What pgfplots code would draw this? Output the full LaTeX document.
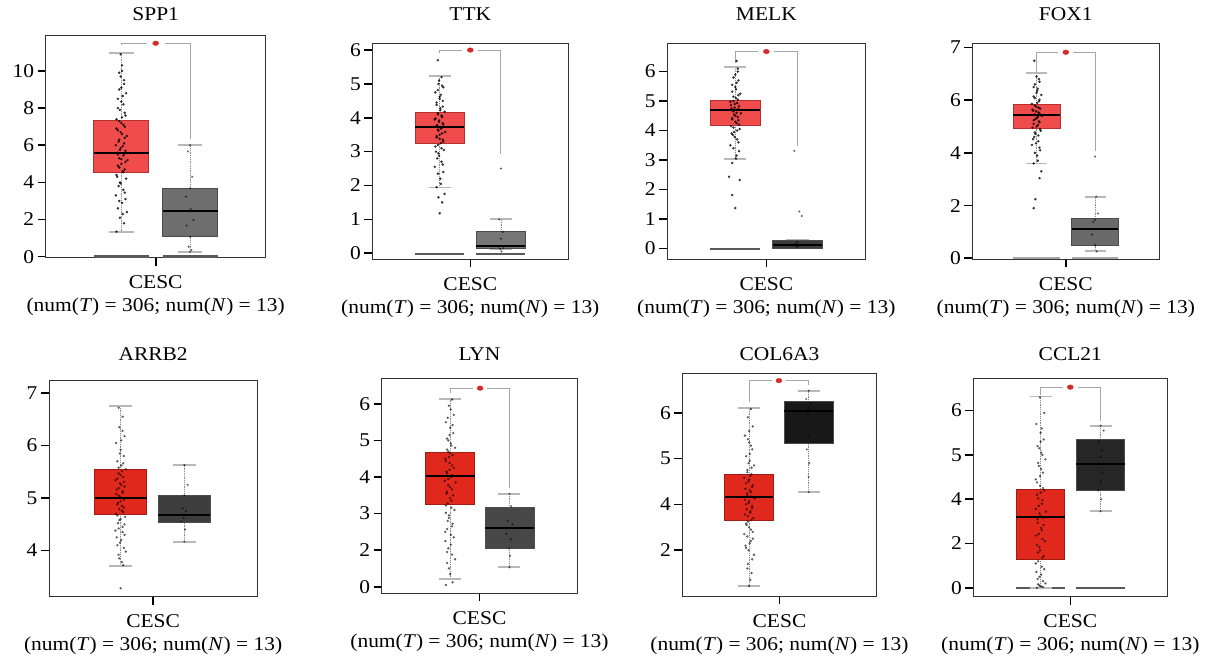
\documentclass[border=0pt]{standalone}
\usepackage{fontspec}
\setmainfont{Liberation Serif}[FakeStretch=1.1]
\usepackage{pgfplots}
\pgfplotsset{compat=1.18}
\usepgfplotslibrary{statistics}

% tumour reds (top row lighter, bottom row deeper)
\definecolor{tumA}{HTML}{F04C4C}
\definecolor{tumAd}{HTML}{B53030}
\definecolor{tumB}{HTML}{E0291C}
\definecolor{tumBd}{HTML}{A01C12}
% normal greys, one per panel
\definecolor{nSPP}{HTML}{6E6E6E}
\definecolor{nTTK}{HTML}{767676}
\definecolor{nMELK}{HTML}{3C3C3C}
\definecolor{nFOX}{HTML}{6A6A6A}
\definecolor{nARRB}{HTML}{3E3E3E}
\definecolor{nLYN}{HTML}{474747}
\definecolor{nCOL}{HTML}{181818}
\definecolor{nCCL}{HTML}{262626}
\definecolor{capgray}{HTML}{B8B8B8}
\definecolor{brk}{HTML}{A6A6A6}
\definecolor{sig}{HTML}{D42A2A}

\newcommand{\lbl}{\fontsize{19.5}{22}\selectfont}
\newcommand{\cesc}{%
  \node[anchor=base, font=\lbl] at (rel axis cs:0.5,0) [yshift=-31pt] {CESC};
  \node[anchor=base, font=\lbl] at (rel axis cs:0.5,0) [yshift=-54pt] {(num(\textit{T}) = 306; num(\textit{N}) = 13)};
}

\pgfplotsset{
  gepia/.style={
    scale only axis,
    anchor=south west,
    clip=false,
    xmin=-1.6, xmax=1.6,
    xtick={0}, xticklabels={},
    tick pos=left,
    tick align=outside,
    major tick length=8pt,
    axis line style={draw=black!80, line width=1pt},
    tick style={black, line width=1.6pt},
    tick label style={font=\lbl},
    /pgf/number format/assume math mode=true,
    title style={font=\lbl, at={(0.5,1)}, anchor=base},
    boxplot/draw direction=y,
    boxplot/every median/.style={draw=black, line width=2pt},
    boxplot/draw/lower whisker/.code={%
      \draw[black!45, densely dotted, line width=0.8pt]
        (boxplot cs:\pgfplotsboxplotvalue{lower quartile}) -- (boxplot cs:\pgfplotsboxplotvalue{lower whisker});
      \draw[capgray, line width=1.8pt]
        (boxplot whisker cs:\pgfplotsboxplotvalue{lower whisker},0) -- (boxplot whisker cs:\pgfplotsboxplotvalue{lower whisker},1);
    },
    boxplot/draw/upper whisker/.code={%
      \draw[black!45, densely dotted, line width=0.8pt]
        (boxplot cs:\pgfplotsboxplotvalue{upper quartile}) -- (boxplot cs:\pgfplotsboxplotvalue{upper whisker});
      \draw[capgray, line width=1.8pt]
        (boxplot whisker cs:\pgfplotsboxplotvalue{upper whisker},0) -- (boxplot whisker cs:\pgfplotsboxplotvalue{upper whisker},1);
    },
  },
  pts/.style={only marks, mark=*, mark size=1.05pt, black, opacity=0.7},
  lpts/.style={only marks, mark=*, mark size=1pt, black, opacity=0.5},
  npts/.style={only marks, mark=*, mark size=0.9pt, black, opacity=0.45},
  zline/.style={black!65, line width=2.4pt},
  bracket/.style={brk, line width=1pt},
  star/.style={only marks, mark=*, mark size=2.3pt, sig, mark options={xscale=1.3}},
}

\begin{document}
\begin{tikzpicture}
\useasboundingbox (0,0) rectangle (1212pt,659pt);

% ---------------- SPP1
\begin{axis}[gepia, at={(45.7pt,401pt)}, width=220pt, height=222pt,
  ymin=-0.07, ymax=11.88, ytick={0,2,...,10},
  title={SPP1}, title style={yshift=9pt}]
\addplot[zline] coordinates {(-0.9,0) (-0.1,0)};
\addplot[zline] coordinates {(0.1,0) (0.9,0)};
\addplot[boxplot prepared={draw position=-0.5, box extend=0.8, whisker extend=0.36,
  lower whisker=1.31, lower quartile=4.52, median=5.58, upper quartile=7.33, upper whisker=10.95},
  fill=tumA, draw=tumAd, line width=0.8pt] coordinates {};
\addplot[boxplot prepared={draw position=0.5, box extend=0.8, whisker extend=0.36,
  lower whisker=0.27, lower quartile=1.08, median=2.48, upper quartile=3.68, upper whisker=6.01},
  fill=nSPP, draw=black!70, line width=0.8pt] coordinates {};
\addplot[pts] coordinates {
(-0.57,1.35)(-0.46,1.8)(-0.52,2.1)(-0.42,2.4)(-0.55,2.6)(-0.49,2.9)(-0.44,3.1)(-0.58,3.3)(-0.47,3.6)(-0.54,3.8)
(-0.52,4.0)(-0.43,4.2)(-0.57,4.4)(-0.48,4.6)(-0.45,4.7)(-0.55,4.9)(-0.5,5.0)(-0.41,5.2)(-0.53,5.3)(-0.47,5.45)
(-0.56,5.6)(-0.44,5.7)(-0.51,5.85)(-0.58,6.0)(-0.46,6.1)(-0.53,6.3)(-0.42,6.5)(-0.49,6.6)(-0.55,6.8)(-0.45,7.0)
(-0.5,7.2)(-0.57,7.4)(-0.44,7.6)(-0.52,7.9)(-0.47,8.2)(-0.55,8.5)(-0.43,8.8)(-0.5,9.1)(-0.46,9.5)(-0.53,9.9)
(-0.49,10.3)(-0.51,10.9)
(-0.48,2.3)(-0.53,3.0)(-0.45,3.45)(-0.51,3.95)(-0.56,4.3)(-0.47,4.55)(-0.53,4.8)(-0.44,5.1)(-0.5,5.25)(-0.55,5.5)
(-0.46,5.55)(-0.52,5.75)(-0.48,5.95)(-0.54,6.2)(-0.45,6.4)(-0.51,6.7)(-0.57,6.9)(-0.47,7.1)(-0.53,7.3)(-0.49,7.5)
(-0.45,7.75)(-0.55,8.0)(-0.5,8.35)(-0.48,8.65)(-0.53,9.0)(-0.46,9.3)(-0.51,9.7)(-0.49,10.0)
};
\addplot[npts] coordinates {
(0.5,6.0)(0.47,5.66)(0.53,4.3)(0.5,3.68)(0.44,3.23)(0.51,2.55)(0.55,1.97)(0.45,1.67)(0.5,1.08)(0.48,0.54)(0.52,0.36)(0.5,0.27)
};
\addplot[bracket] coordinates {(-0.5,11.40) (-0.5,11.49) (-0.13,11.49)};
\addplot[bracket] coordinates {(0.13,11.49) (0.5,11.49) (0.5,6.32)};
\addplot[star] coordinates {(0,11.49)};
\cesc
\end{axis}

% ---------------- TTK
\begin{axis}[gepia, at={(372.3pt,399.7pt)}, width=196pt, height=216pt,
  ymin=-0.18, ymax=6.2, ytick={0,1,...,6},
  title={TTK}, title style={yshift=16.3pt}]
\addplot[zline] coordinates {(-0.9,-0.02) (-0.1,-0.02)};
\addplot[zline] coordinates {(0.1,-0.02) (0.9,-0.02)};
\addplot[boxplot prepared={draw position=-0.5, box extend=0.8, whisker extend=0.36,
  lower whisker=1.94, lower quartile=3.23, median=3.72, upper quartile=4.15, upper whisker=5.23},
  fill=tumA, draw=tumAd, line width=0.8pt] coordinates {};
\addplot[boxplot prepared={draw position=0.5, box extend=0.8, whisker extend=0.36,
  lower whisker=0.12, lower quartile=0.15, median=0.2, upper quartile=0.64, upper whisker=1.01},
  fill=nTTK, draw=black!70, line width=0.8pt] coordinates {};
\addplot[pts] coordinates {
(-0.5,1.18)(-0.46,1.5)(-0.52,1.65)(-0.42,1.75)(-0.55,1.95)(-0.49,2.2)(-0.44,2.4)(-0.58,2.55)(-0.47,2.7)(-0.54,2.8)
(-0.52,2.95)(-0.43,3.05)(-0.57,3.15)(-0.48,3.25)(-0.45,3.35)(-0.55,3.42)(-0.5,3.5)(-0.41,3.58)(-0.53,3.65)(-0.47,3.7)
(-0.56,3.75)(-0.44,3.8)(-0.51,3.88)(-0.58,3.95)(-0.46,4.02)(-0.53,4.1)(-0.42,4.18)(-0.49,4.28)(-0.55,4.38)(-0.45,4.5)
(-0.5,4.62)(-0.57,4.75)(-0.44,4.9)(-0.52,5.0)(-0.47,5.2)(-0.53,5.7)
(-0.48,2.05)(-0.53,2.35)(-0.45,2.62)(-0.51,2.88)(-0.56,3.0)(-0.47,3.1)(-0.53,3.2)(-0.44,3.3)(-0.5,3.38)(-0.55,3.46)
(-0.46,3.54)(-0.52,3.62)(-0.48,3.68)(-0.54,3.78)(-0.45,3.84)(-0.51,3.92)(-0.57,3.98)(-0.47,4.06)(-0.53,4.14)(-0.49,4.22)
(-0.45,4.33)(-0.55,4.45)(-0.5,4.56)(-0.48,4.68)(-0.53,4.82)(-0.46,4.95)(-0.51,5.1)
};
\addplot[npts] coordinates {
(0.5,2.5)(0.47,1.0)(0.53,0.63)(0.5,0.43)(0.46,0.2)(0.54,0.15)(0.49,0.12)(0.51,0.05)
};
\addplot[bracket] coordinates {(-0.5,5.9) (-0.5,6.0) (-0.13,6.0)};
\addplot[bracket] coordinates {(0.13,6.0) (0.5,6.0) (0.5,2.93)};
\addplot[star] coordinates {(0,6.0)};
\cesc
\end{axis}

% ---------------- MELK
\begin{axis}[gepia, at={(667pt,399.7pt)}, width=198.7pt, height=216pt,
  ymin=-0.37, ymax=6.96, ytick={0,1,...,6},
  title={MELK}, title style={yshift=16.3pt}]
\addplot[zline] coordinates {(-0.9,-0.03) (-0.1,-0.03)};
\addplot[boxplot prepared={draw position=-0.5, box extend=0.8, whisker extend=0.36,
  lower whisker=3.03, lower quartile=4.19, median=4.68, upper quartile=5.02, upper whisker=6.15},
  fill=tumA, draw=tumAd, line width=0.8pt] coordinates {};
\addplot[boxplot prepared={draw position=0.5, box extend=0.8, whisker extend=0.36,
  lower whisker=0, lower quartile=0, median=0.13, upper quartile=0.26, upper whisker=0.28},
  fill=nMELK, draw=black!70, line width=0.8pt] coordinates {};
\addplot[pts] coordinates {
(-0.5,1.37)(-0.55,1.81)(-0.43,2.32)(-0.6,2.43)(-0.55,2.9)(-0.49,3.05)(-0.44,3.3)(-0.58,3.5)(-0.47,3.7)(-0.54,3.85)
(-0.52,3.95)(-0.43,4.05)(-0.57,4.15)(-0.48,4.25)(-0.45,4.35)(-0.55,4.42)(-0.5,4.5)(-0.41,4.58)(-0.53,4.65)(-0.47,4.7)
(-0.56,4.75)(-0.44,4.82)(-0.51,4.9)(-0.58,4.97)(-0.46,5.05)(-0.53,5.15)(-0.42,5.25)(-0.49,5.4)(-0.55,5.55)(-0.45,5.7)
(-0.5,5.9)(-0.46,6.1)(-0.48,6.36)
(-0.48,3.15)(-0.53,3.4)(-0.45,3.6)(-0.51,3.78)(-0.56,3.9)(-0.47,4.0)(-0.53,4.1)(-0.44,4.2)(-0.5,4.3)(-0.55,4.38)
(-0.46,4.46)(-0.52,4.54)(-0.48,4.6)(-0.54,4.68)(-0.45,4.73)(-0.51,4.78)(-0.57,4.86)(-0.47,4.93)(-0.53,5.0)(-0.49,5.1)
(-0.45,5.2)(-0.55,5.32)(-0.5,5.48)(-0.48,5.62)(-0.53,5.8)(-0.46,6.0)
};
\addplot[npts] coordinates {
(0.45,3.31)(0.53,1.25)(0.57,1.1)(0.5,0.22)(0.47,0.16)(0.53,0.1)(0.49,0.06)
};
\addplot[bracket] coordinates {(-0.5,6.28) (-0.5,6.68) (-0.13,6.68)};
\addplot[bracket] coordinates {(0.13,6.68) (0.5,6.68) (0.5,3.49)};
\addplot[star] coordinates {(0,6.68)};
\cesc
\end{axis}

% ---------------- FOX1 (ticks evenly spaced, labelled 0 2 4 6 7)
\begin{axis}[gepia, at={(972.3pt,399.7pt)}, width=187pt, height=216pt,
  ymin=-0.02, ymax=4.08, ytick={0,1,2,3,4}, yticklabels={0,2,4,6,7},
  title={FOX1}, title style={yshift=16.3pt}]
\addplot[zline, black!35] coordinates {(-0.9,0) (-0.1,0)};
\addplot[zline, black!35] coordinates {(0.1,0) (0.9,0)};
\addplot[boxplot prepared={draw position=-0.5, box extend=0.8, whisker extend=0.36,
  lower whisker=1.80, lower quartile=2.46, median=2.72, upper quartile=2.92, upper whisker=3.51},
  fill=tumA, draw=tumAd, line width=0.8pt] coordinates {};
\addplot[boxplot prepared={draw position=0.5, box extend=0.8, whisker extend=0.36,
  lower whisker=0.13, lower quartile=0.24, median=0.56, upper quartile=0.75, upper whisker=1.17},
  fill=nFOX, draw=black!70, line width=0.8pt] coordinates {};
\addplot[pts] coordinates {
(-0.55,0.95)(-0.52,1.12)(-0.45,1.52)(-0.42,1.65)(-0.55,1.8)(-0.49,1.95)(-0.44,2.05)(-0.58,2.15)(-0.47,2.22)(-0.54,2.3)
(-0.52,2.36)(-0.43,2.42)(-0.57,2.48)(-0.48,2.53)(-0.45,2.58)(-0.55,2.62)(-0.5,2.66)(-0.41,2.7)(-0.53,2.73)(-0.47,2.77)
(-0.56,2.8)(-0.44,2.84)(-0.51,2.88)(-0.58,2.93)(-0.46,2.98)(-0.53,3.04)(-0.42,3.1)(-0.49,3.18)(-0.55,3.25)(-0.45,3.35)
(-0.5,3.45)(-0.54,3.75)
(-0.48,1.85)(-0.53,2.0)(-0.45,2.1)(-0.51,2.18)(-0.56,2.26)(-0.47,2.33)(-0.53,2.39)(-0.44,2.45)(-0.5,2.5)(-0.55,2.55)
(-0.46,2.6)(-0.52,2.64)(-0.48,2.68)(-0.54,2.72)(-0.45,2.75)(-0.51,2.79)(-0.57,2.82)(-0.47,2.86)(-0.53,2.9)(-0.49,2.95)
(-0.45,3.01)(-0.55,3.07)(-0.5,3.14)(-0.48,3.22)(-0.53,3.3)(-0.46,3.4)
};
\addplot[npts] coordinates {
(0.5,1.93)(0.52,1.17)(0.55,0.85)(0.5,0.73)(0.47,0.69)(0.5,0.55)(0.45,0.45)(0.5,0.25)(0.53,0.13)
};
\addplot[bracket] coordinates {(-0.5,3.54) (-0.5,3.91) (-0.13,3.91)};
\addplot[bracket] coordinates {(0.13,3.91) (0.5,3.91) (0.5,2.03)};
\addplot[star] coordinates {(0,3.91)};
\cesc
\end{axis}

% ---------------- ARRB2
\begin{axis}[gepia, at={(49pt,62.3pt)}, width=208.3pt, height=216.7pt,
  ymin=3.12, ymax=7.25, ytick={4,5,6,7},
  title={ARRB2}, title style={yshift=13.3pt}]
\addplot[boxplot prepared={draw position=-0.5, box extend=0.8, whisker extend=0.36,
  lower whisker=3.71, lower quartile=4.69, median=5.01, upper quartile=5.54, upper whisker=6.76},
  fill=tumB, draw=tumBd, line width=0.8pt] coordinates {};
\addplot[boxplot prepared={draw position=0.48, box extend=0.8, whisker extend=0.36,
  lower whisker=4.17, lower quartile=4.53, median=4.68, upper quartile=5.05, upper whisker=5.63},
  fill=nARRB, draw=black!70, line width=0.8pt] coordinates {};
\addplot[lpts] coordinates {
(-0.5,3.28)(-0.46,3.72)(-0.52,3.85)(-0.42,3.98)(-0.55,4.1)(-0.49,4.2)(-0.44,4.3)(-0.58,4.38)(-0.47,4.45)(-0.54,4.52)
(-0.52,4.58)(-0.43,4.64)(-0.57,4.7)(-0.48,4.76)(-0.45,4.82)(-0.55,4.88)(-0.5,4.94)(-0.41,5.0)(-0.53,5.05)(-0.47,5.1)
(-0.56,5.16)(-0.44,5.22)(-0.51,5.28)(-0.58,5.34)(-0.46,5.4)(-0.53,5.47)(-0.42,5.55)(-0.49,5.62)(-0.55,5.7)(-0.45,5.8)
(-0.5,5.92)(-0.57,6.05)(-0.44,6.18)(-0.52,6.35)(-0.47,6.55)(-0.53,6.72)
(-0.48,3.78)(-0.53,3.92)(-0.45,4.05)(-0.51,4.15)(-0.56,4.25)(-0.47,4.35)(-0.53,4.42)(-0.44,4.5)(-0.5,4.6)(-0.55,4.67)
(-0.46,4.73)(-0.52,4.79)(-0.48,4.85)(-0.54,4.91)(-0.45,4.97)(-0.51,5.03)(-0.57,5.08)(-0.47,5.13)(-0.53,5.19)(-0.49,5.25)
(-0.45,5.31)(-0.55,5.37)(-0.5,5.44)(-0.48,5.51)(-0.53,5.58)(-0.46,5.66)(-0.51,5.85)(-0.49,6.1)(-0.47,6.28)
};
\addplot[npts] coordinates {
(0.48,5.63)(0.53,5.25)(0.48,5.05)(0.45,4.8)(0.5,4.75)(0.47,4.62)(0.43,4.55)(0.49,4.4)(0.48,4.17)
};
\cesc
\end{axis}

% ---------------- LYN (ticks evenly spaced, labelled 0 2 3 4 5 6)
\begin{axis}[gepia, at={(381.7pt,65.7pt)}, width=195.6pt, height=215pt,
  ymin=-0.18, ymax=5.70, ytick={0,1,...,5}, yticklabels={0,2,3,4,5,6},
  title={LYN}, title style={yshift=11.6pt}]
\addplot[boxplot prepared={draw position=-0.48, box extend=0.8, whisker extend=0.36,
  lower whisker=0.22, lower quartile=2.25, median=3.03, upper quartile=3.67, upper whisker=5.14},
  fill=tumB, draw=tumBd, line width=0.8pt] coordinates {};
\addplot[boxplot prepared={draw position=0.49, box extend=0.8, whisker extend=0.36,
  lower whisker=0.53, lower quartile=1.05, median=1.60, upper quartile=2.17, upper whisker=2.54},
  fill=nLYN, draw=black!70, line width=0.8pt] coordinates {};
\addplot[lpts] coordinates {
(-0.55,0.05)(-0.44,0.12)(-0.5,0.5)(-0.4,0.75)(-0.53,0.95)(-0.47,1.15)(-0.42,1.35)(-0.56,1.5)(-0.45,1.65)(-0.52,1.8)
(-0.5,1.95)(-0.41,2.1)(-0.55,2.22)(-0.46,2.35)(-0.43,2.5)(-0.53,2.6)(-0.48,2.72)(-0.39,2.85)(-0.51,2.95)(-0.45,3.05)
(-0.54,3.15)(-0.42,3.25)(-0.49,3.38)(-0.56,3.5)(-0.44,3.6)(-0.51,3.7)(-0.4,3.8)(-0.47,3.92)(-0.53,4.05)(-0.43,4.2)
(-0.48,4.35)(-0.55,4.5)(-0.42,4.7)(-0.5,4.95)(-0.45,5.12)
(-0.48,0.35)(-0.53,0.65)(-0.45,0.88)(-0.51,1.05)(-0.56,1.25)(-0.47,1.42)(-0.53,1.58)(-0.44,1.72)(-0.5,1.88)(-0.55,2.02)
(-0.46,2.16)(-0.52,2.28)(-0.48,2.42)(-0.54,2.55)(-0.45,2.66)(-0.51,2.78)(-0.57,2.9)(-0.47,3.0)(-0.53,3.1)(-0.49,3.2)
(-0.45,3.32)(-0.55,3.44)(-0.5,3.55)(-0.48,3.65)(-0.53,3.75)(-0.46,3.86)(-0.51,4.0)(-0.49,4.15)(-0.44,4.42)(-0.52,4.62)
(-0.47,4.85)
};
\addplot[npts] coordinates {
(0.49,2.54)(0.52,2.2)(0.46,1.8)(0.54,1.7)(0.55,1.6)(0.44,1.45)(0.51,1.3)(0.48,1.05)(0.5,0.85)(0.49,0.53)
};
\addplot[bracket] coordinates {(-0.48,5.29) (-0.48,5.43) (-0.11,5.43)};
\addplot[bracket] coordinates {(0.13,5.43) (0.49,5.43) (0.49,2.69)};
\addplot[star] coordinates {(0.01,5.43)};
\cesc
\end{axis}

% ---------------- COL6A3 (ticks evenly spaced, labelled 2 4 5 6)
\begin{axis}[gepia, at={(682.3pt,63pt)}, width=194.4pt, height=222.7pt,
  ymin=-1.0, ymax=3.86, ytick={0,1,2,3}, yticklabels={2,4,5,6},
  title={COL6A3}, title style={yshift=6.6pt}]
\addplot[boxplot prepared={draw position=-0.5, box extend=0.8, whisker extend=0.36,
  lower whisker=-0.79, lower quartile=0.64, median=1.15, upper quartile=1.65, upper whisker=3.10},
  fill=tumB, draw=tumBd, line width=0.8pt] coordinates {};
\addplot[boxplot prepared={draw position=0.48, box extend=0.8, whisker extend=0.36,
  lower whisker=1.27, lower quartile=2.32, median=3.04, upper quartile=3.24, upper whisker=3.48},
  fill=nCOL, draw=black!70, line width=0.8pt] coordinates {};
\addplot[lpts] coordinates {
(-0.5,-0.78)(-0.46,-0.5)(-0.52,-0.3)(-0.42,-0.1)(-0.55,0.05)(-0.49,0.15)(-0.44,0.25)(-0.58,0.35)(-0.47,0.45)(-0.54,0.55)
(-0.52,0.62)(-0.43,0.7)(-0.57,0.78)(-0.48,0.85)(-0.45,0.92)(-0.55,1.0)(-0.5,1.07)(-0.41,1.13)(-0.53,1.2)(-0.47,1.27)
(-0.56,1.34)(-0.44,1.42)(-0.51,1.5)(-0.58,1.58)(-0.46,1.66)(-0.53,1.75)(-0.42,1.85)(-0.49,1.95)(-0.55,2.05)(-0.45,2.2)
(-0.5,2.35)(-0.57,2.5)(-0.44,2.7)(-0.52,2.9)(-0.47,3.08)
(-0.48,-0.65)(-0.53,-0.4)(-0.45,-0.2)(-0.51,0.0)(-0.56,0.1)(-0.47,0.2)(-0.53,0.3)(-0.44,0.4)(-0.5,0.5)(-0.55,0.58)
(-0.46,0.66)(-0.52,0.74)(-0.48,0.82)(-0.54,0.89)(-0.45,0.96)(-0.51,1.03)(-0.57,1.1)(-0.47,1.17)(-0.53,1.24)(-0.49,1.31)
(-0.45,1.38)(-0.55,1.46)(-0.5,1.54)(-0.48,1.62)(-0.53,1.7)(-0.46,1.8)(-0.51,1.9)(-0.49,2.1)(-0.47,2.28)(-0.52,2.42)
(-0.5,2.6)
};
\addplot[npts] coordinates {
(0.48,3.48)(0.44,3.3)(0.51,3.2)(0.48,3.1)(0.46,2.98)(0.5,2.75)(0.48,2.5)(0.45,2.2)(0.49,1.9)(0.48,1.6)(0.48,1.27)
};
\addplot[bracket] coordinates {(-0.5,3.24) (-0.5,3.70) (-0.13,3.70)};
\addplot[bracket] coordinates {(0.11,3.70) (0.48,3.70) (0.48,3.6)};
\addplot[star] coordinates {(-0.01,3.70)};
\cesc
\end{axis}

% ---------------- CCL21 (ticks evenly spaced, labelled 0 2 4 5 6)
\begin{axis}[gepia, at={(973.3pt,62.3pt)}, width=194pt, height=218.4pt,
  ymin=-0.2, ymax=4.73, ytick={0,1,2,3,4}, yticklabels={0,2,4,5,6},
  title={CCL21}, title style={yshift=11.6pt}]
\addplot[zline] coordinates {(-0.89,0) (-0.09,0)};
\addplot[zline] coordinates {(0.1,0) (0.9,0)};
\addplot[boxplot prepared={draw position=-0.49, box extend=0.8, whisker extend=0.36,
  lower whisker=0, lower quartile=0.64, median=1.60, upper quartile=2.23, upper whisker=4.32},
  fill=tumB, draw=tumBd, line width=0.8pt] coordinates {};
\addplot[boxplot prepared={draw position=0.5, box extend=0.8, whisker extend=0.36,
  lower whisker=1.73, lower quartile=2.21, median=2.79, upper quartile=3.34, upper whisker=3.66},
  fill=nCCL, draw=black!70, line width=0.8pt] coordinates {};
\addplot[lpts] coordinates {
(-0.55,0.0)(-0.45,0.02)(-0.51,0.05)(-0.41,0.1)(-0.54,0.2)(-0.48,0.3)(-0.43,0.42)(-0.57,0.55)(-0.46,0.68)(-0.53,0.8)
(-0.51,0.92)(-0.42,1.05)(-0.56,1.18)(-0.47,1.3)(-0.44,1.42)(-0.54,1.55)(-0.49,1.62)(-0.4,1.72)(-0.52,1.85)(-0.46,1.98)
(-0.55,2.1)(-0.43,2.2)(-0.5,2.3)(-0.57,2.45)(-0.45,2.6)(-0.52,2.75)(-0.41,2.9)(-0.48,3.05)(-0.54,3.2)(-0.44,3.35)
(-0.49,3.5)(-0.56,3.7)(-0.43,3.95)(-0.5,4.3)
(-0.48,0.03)(-0.53,0.08)(-0.45,0.15)(-0.51,0.25)(-0.56,0.36)(-0.47,0.48)(-0.53,0.6)(-0.44,0.72)(-0.5,0.85)(-0.55,0.97)
(-0.46,1.1)(-0.52,1.22)(-0.48,1.35)(-0.54,1.47)(-0.45,1.58)(-0.51,1.68)(-0.57,1.78)(-0.47,1.9)(-0.53,2.02)(-0.49,2.15)
(-0.45,2.25)(-0.55,2.38)(-0.5,2.52)(-0.48,2.68)(-0.53,2.82)(-0.46,3.0)(-0.51,3.15)(-0.49,3.3)(-0.47,3.6)
};
\addplot[npts] coordinates {
(0.5,3.66)(0.55,3.55)(0.47,3.3)(0.52,3.1)(0.5,2.95)(0.48,2.8)(0.53,2.6)(0.5,2.4)(0.46,2.2)(0.51,2.0)(0.5,1.73)
};
\addplot[bracket] coordinates {(-0.49,4.35) (-0.49,4.53) (-0.12,4.53)};
\addplot[bracket] coordinates {(0.12,4.53) (0.5,4.53) (0.5,3.77)};
\addplot[star] coordinates {(0,4.53)};
\cesc
\end{axis}
\end{tikzpicture}
\end{document}
